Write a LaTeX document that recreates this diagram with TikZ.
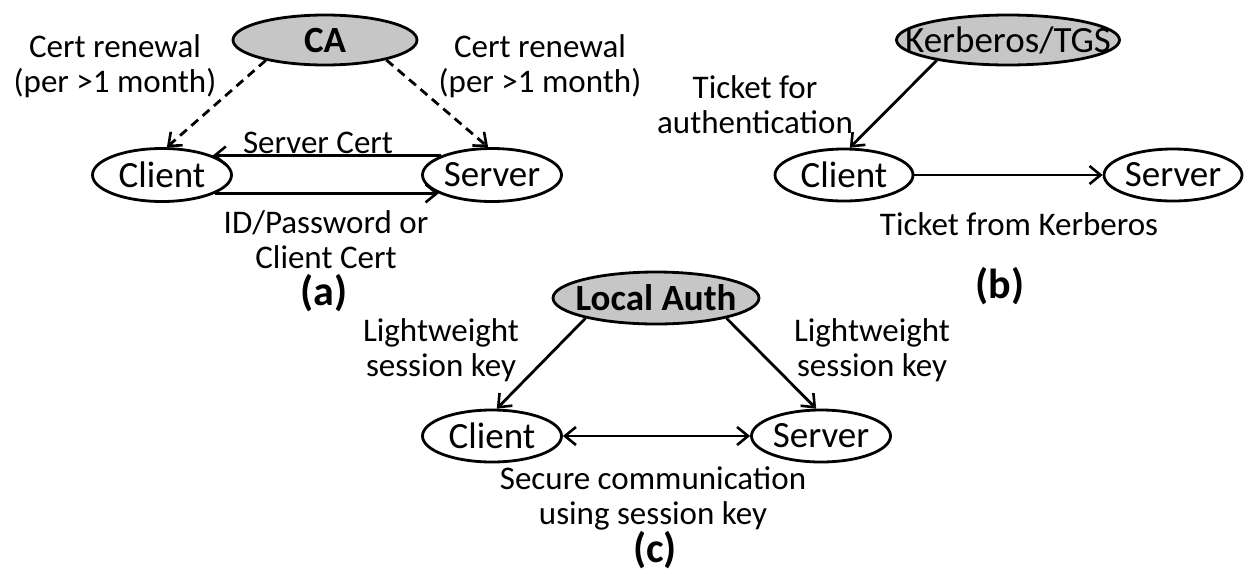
\documentclass[tikz,border=0pt]{standalone}
\usepackage{fontspec}
\setmainfont{Carlito}
\usetikzlibrary{shapes.geometric,arrows.meta}

\tikzset{
  ell/.style={ellipse, draw=black, line width=2.8pt, inner sep=0pt, fill=white,
    font=\fontsize{37}{40}\selectfont},
  auth/.style={ell, fill=gray!45},
  % multi-line labels: the base anchor sits on the last line
  lbl/.style={font=\fontsize{33}{35}\selectfont, align=center, inner sep=0pt, anchor=base},
  subcap/.style={font=\bfseries\fontsize{42}{44}\selectfont, inner sep=0pt, anchor=base},
  barb/.tip={Straight Barb[length=11pt,width=18pt,line width=2.6pt]},
  link/.style={line width=2.8pt, -barb},
  dlink/.style={link, dash pattern=on 9pt off 6pt},
  both/.style={line width=2.8pt, barb-barb},
}

\begin{document}
\begin{tikzpicture}[x=1pt,y=-1pt]
\useasboundingbox[fill=white] (0,0) rectangle (1252,571);

% (a) certificate based
\node[auth, minimum width=184pt, minimum height=50pt] (ca) at (325,40) {\makebox[0pt]{\bfseries CA}};
\node[ell, minimum width=139pt, minimum height=53pt] (cliA) at (162,175) {\makebox[0pt]{Client}};
\node[ell, minimum width=139pt, minimum height=53pt] (srvA) at (492,175) {\makebox[0pt]{Server}};
\draw[dlink] (ca.199) -- (cliA.80);
\draw[dlink] (ca.-18) -- (srvA.98);
\draw[link] (srvA.159) -- (cliA.21);
\draw[link] (cliA.-19) -- (srvA.199);
\node[lbl] (crl) at (115,92) {Cert renewal\\(per >1 month)};
\node[lbl] (crr) at (540,92) {Cert renewal\\(per >1 month)};
\node[lbl] (sc) at (318,153) {Server Cert};
\node[lbl] (idp) at (326,268) {ID/Password or\\Client Cert};
\node[subcap] (capa) at (324,305) {(a)};

% (b) Kerberos
\node[auth, minimum width=223pt, minimum height=50pt] (kdc) at (1008,40) {\makebox[0pt]{Kerberos/TGS}};
\node[ell, minimum width=138pt, minimum height=52pt] (cliB) at (844,175) {\makebox[0pt]{Client}};
\node[ell, minimum width=138pt, minimum height=52pt] (srvB) at (1173,175) {\makebox[0pt]{Server}};
\draw[link] (kdc.196) -- (cliB.78);
\draw[link] (cliB.east) -- (srvB.west);
\node[lbl] (tfa) at (755,133) {Ticket for\\authentication};
\node[lbl] (tfk) at (1019,235) {Ticket from Kerberos};
\node[subcap] (capb) at (1000,298) {(b)};

% (c) local authority
\node[auth, minimum width=206pt, minimum height=52pt] (la) at (656,298) {\makebox[0pt]{\bfseries Local Auth}};
\node[ell, minimum width=139pt, minimum height=52pt] (cliC) at (492,436) {\makebox[0pt]{Client}};
\node[ell, minimum width=139pt, minimum height=52pt] (srvC) at (821,436) {\makebox[0pt]{Server}};
\draw[link] (la.196) -- (cliC.80);
\draw[link] (la.-16) -- (srvC.100);
\draw[both] (cliC.east) -- (srvC.west);
\node[lbl] (lwl) at (441,376) {Lightweight\\session key};
\node[lbl] (lwr) at (872,376) {Lightweight\\session key};
\node[lbl] (sec) at (653,524) {Secure communication\\using session key};
\node[subcap] (capc) at (655,562) {(c)};
\end{tikzpicture}
\end{document}
